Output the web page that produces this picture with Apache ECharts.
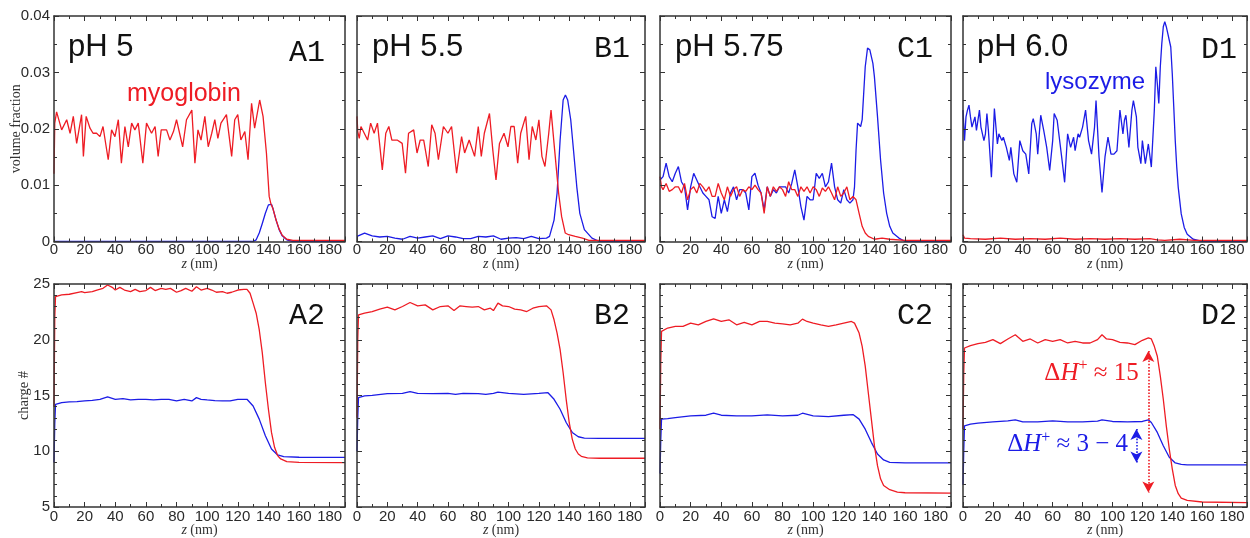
<!DOCTYPE html>
<html><head><meta charset="utf-8">
<script src="https://cdn.jsdelivr.net/npm/echarts@6/dist/echarts.min.js"></script>
<style>html,body{margin:0;padding:0;background:#fff}#c{width:1250px;height:538px}</style>
</head><body><div id="c"></div>
<script>
// ---------- text / tick labels ----------
const xTickLabels = ['0','20','40','60','80','100','120','140','160','180'];
const volTickLabels = ['0','0.01','0.02','0.03','0.04'];
const chargeTickLabels = ['5','10','15','20','25'];
const phLabels = ['pH 5','pH 5.5','pH 5.75','pH 6.0'];
const panelTopLabels = ['A1','B1','C1','D1'];
const panelBottomLabels = ['A2','B2','C2','D2'];
const proteinNames = ['myoglobin','lysozyme'];
const volName = 'volume fraction';
const chargeName = 'charge #';

// ---------- volume fraction (row 1), [z, value] ----------
const a1Red = [[0,0.012],[0.5,0.021],[1.7,0.0230],[5,0.0198],[8.3,0.0216],[10.5,0.0192],[12.6,0.0222],[14.8,0.0174],[18,0.0225],[19.2,0.0151],[21,0.0222],[23.5,0.0201],[25.5,0.0192],[27.8,0.0192],[30,0.0186],[32,0.0204],[35.4,0.0145],[37.6,0.0198],[39.8,0.0186],[42,0.0216],[44,0.0139],[46.3,0.0204],[48.5,0.0168],[50.7,0.0210],[52.8,0.0198],[55,0.0210],[58,0.0139],[60.4,0.0210],[63.7,0.0192],[66,0.0204],[68,0.0151],[70,0.0198],[73.5,0.0198],[75.7,0.0180],[78,0.0195],[80,0.0216],[82,0.0192],[84,0.0168],[86.5,0.0216],[90,0.0233],[92,0.0139],[94,0.0198],[96,0.0180],[98.5,0.0222],[100.7,0.0168],[103,0.0192],[105,0.0216],[107,0.0183],[109,0.0210],[112.6,0.0225],[116,0.0151],[118,0.0216],[120,0.0225],[122,0.0180],[124.6,0.0195],[126.7,0.0145],[129,0.0245],[131,0.0201],[134.3,0.0251],[136.5,0.0222],[138.7,0.0157],[140.5,0.0080],[141.5,0.0068],[143,0.0058],[145,0.0038],[147,0.0022],[149,0.0011],[152,0.0004],[156,0.0002],[190,0.0002]];
const a1Blue = [[0,0],[130,0],[132,0.0003],[134,0.0015],[136,0.0032],[138,0.0050],[140,0.0065],[141,0.0068],[142,0.0066],[143,0.0058],[145,0.0038],[147,0.0021],[149,0.0010],[152,0.0003],[156,0],[190,0]];
const b1Red = [[0,0.0222],[0.5,0.0195],[1.5,0.0183],[2.6,0.0204],[4.8,0.0192],[7,0.0180],[9,0.0210],[11.3,0.0192],[13.5,0.0210],[16.7,0.0127],[19,0.0192],[21,0.0204],[23,0.0180],[26.5,0.0180],[29.8,0.0174],[32,0.0121],[34,0.0192],[37.4,0.0198],[39.6,0.0157],[41.7,0.0180],[44,0.0180],[47,0.0133],[49.3,0.0207],[51.5,0.0192],[53.7,0.0145],[57,0.0204],[60,0.0192],[62.4,0.0204],[65.7,0.0121],[69,0.0186],[71,0.0157],[74,0.0180],[77.6,0.0151],[80,0.0204],[82,0.0151],[84,0.0192],[87.4,0.0227],[89.6,0.0162],[91.7,0.0109],[94,0.0174],[97,0.0192],[99.6,0.0168],[101.5,0.0204],[103.7,0.0204],[106,0.0139],[108,0.0192],[111.3,0.0222],[113.5,0.0145],[115.6,0.0204],[118,0.0180],[120,0.0216],[122,0.0151],[124,0.0133],[126.5,0.0192],[128,0.0233],[130.4,0.0162],[133,0.0086],[135,0.0044],[137.4,0.0015],[139.6,0.0012],[144,0.0009],[148.7,0.0006],[153,0.0002],[190,0.0002]];
const b1Blue = [[0,0.0009],[5,0.0015],[10,0.0010],[15,0.0008],[20,0.0009],[25,0.0006],[30,0.0004],[35,0.0009],[40,0.0006],[45,0.0008],[50,0.0010],[55,0.0005],[60,0.0010],[65,0.0008],[70,0.0005],[75,0.0005],[80,0.0009],[85,0.0008],[90,0.0010],[95,0.0004],[100,0.0006],[105,0.0007],[110,0.0005],[115,0.0009],[120,0.0005],[125,0.0006],[127,0.0009],[130,0.0038],[132,0.0086],[134,0.0180],[136,0.0251],[137.5,0.0260],[139,0.0251],[141,0.0216],[143,0.0157],[145,0.0097],[147,0.0050],[150,0.0021],[155,0.0006],[160,0],[190,0]];
const c1Red = [[0,0.0115],[1,0.0097],[2,0.0092],[4,0.0103],[6,0.0089],[8,0.0092],[10,0.0097],[12,0.0097],[14,0.0086],[16,0.0103],[18,0.0074],[20,0.0092],[22,0.0097],[24,0.0086],[26,0.0103],[28,0.0097],[30,0.0089],[32,0.0097],[34,0.0080],[36,0.0080],[38,0.0103],[40,0.0086],[42,0.0074],[44,0.0097],[46,0.0080],[48,0.0092],[50,0.0097],[52,0.0080],[54,0.0092],[56,0.0089],[58,0.0097],[60,0.0092],[62,0.0100],[64,0.0092],[66,0.0086],[68,0.0050],[70,0.0097],[72,0.0080],[74,0.0097],[76,0.0089],[78,0.0097],[80,0.0092],[82,0.0080],[84,0.0106],[86,0.0092],[88,0.0092],[90,0.0080],[92,0.0097],[94,0.0089],[96,0.0097],[98,0.0086],[100,0.0097],[102,0.0092],[104,0.0080],[106,0.0095],[108,0.0089],[110,0.0097],[112,0.0086],[114,0.0074],[116,0.0097],[118,0.0080],[120,0.0086],[122,0.0097],[124,0.0074],[126,0.0080],[128,0.0074],[130,0.0050],[132,0.0027],[134,0.0015],[136,0.0009],[140,0.0004],[145,0.0006],[150,0.0004],[160,0.0002],[190,0.0002]];
const c1Blue = [[0,0.0109],[2,0.0115],[4,0.0139],[6,0.0115],[8,0.0106],[10,0.0121],[12,0.0133],[14,0.0106],[16,0.0097],[18,0.0056],[20,0.0097],[22,0.0121],[24,0.0109],[26,0.0097],[28,0.0086],[30,0.0080],[32,0.0074],[34,0.0044],[36,0.0041],[38,0.0080],[40,0.0050],[42,0.0074],[44,0.0053],[46,0.0086],[48,0.0097],[50,0.0074],[52,0.0092],[54,0.0092],[56,0.0086],[58,0.0056],[60,0.0115],[62,0.0121],[64,0.0100],[66,0.0086],[68,0.0056],[70,0.0097],[72,0.0080],[74,0.0092],[76,0.0086],[78,0.0097],[80,0.0097],[82,0.0097],[84,0.0086],[86,0.0103],[88,0.0127],[90,0.0097],[92,0.0062],[94,0.0038],[96,0.0080],[98,0.0074],[100,0.0074],[102,0.0121],[104,0.0112],[106,0.0121],[108,0.0097],[110,0.0106],[112,0.0139],[114,0.0097],[116,0.0074],[118,0.0068],[120,0.0092],[122,0.0074],[124,0.0068],[126,0.0074],[127,0.0097],[128,0.0162],[129,0.0210],[131,0.0204],[132,0.0216],[134,0.0310],[135.5,0.0343],[137,0.0340],[139,0.0316],[140,0.0292],[142,0.0222],[144,0.0145],[146,0.0086],[148,0.0050],[150,0.0027],[152,0.0015],[156,0.0006],[160,0],[190,0]];
const d1Red = [[0,0.0012],[1,0.0006],[5,0.0005],[15,0.0004],[25,0.0006],[35,0.0004],[45,0.0005],[55,0.0004],[65,0.0006],[75,0.0004],[85,0.0005],[95,0.0004],[105,0.0005],[115,0.0004],[125,0.0005],[130,0.0003],[135,0.0002],[145,0.0004],[155,0.0002],[190,0.0002]];
const d1Blue = [[0,0.0233],[1,0.0179],[2,0.0221],[3,0.0233],[4,0.0242],[5,0.0221],[6,0.0203],[8,0.0221],[9,0.0197],[11,0.0233],[12,0.0203],[14,0.0179],[15,0.0191],[16,0.0227],[17,0.0197],[19,0.0114],[20,0.0173],[21,0.0236],[23,0.0173],[24,0.0191],[26,0.0179],[27,0.0185],[29,0.0167],[31,0.0144],[32,0.0167],[34,0.0120],[36,0.0105],[38,0.0179],[40,0.0161],[42,0.0155],[44,0.0120],[46,0.0209],[47,0.0218],[49,0.0191],[50,0.0155],[52,0.0224],[53,0.0221],[54,0.0197],[56,0.0167],[58,0.0126],[60,0.0179],[61,0.0227],[62,0.0230],[63,0.0215],[64,0.0218],[66,0.0150],[68,0.0105],[70,0.0191],[72,0.0167],[74,0.0185],[75,0.0161],[77,0.0191],[78,0.0185],[80,0.0203],[82,0.0233],[84,0.0179],[86,0.0155],[88,0.0203],[89,0.0250],[91,0.0150],[93,0.0087],[95,0.0150],[97,0.0185],[99,0.0155],[101,0.0155],[103,0.0161],[105,0.0233],[107,0.0191],[108,0.0215],[109,0.0224],[111,0.0167],[113,0.0233],[114,0.0250],[116,0.0221],[117,0.0167],[119,0.0138],[120,0.0179],[122,0.0138],[124,0.0173],[126,0.0132],[128,0.0233],[129,0.0310],[130,0.0280],[131,0.0245],[132,0.0310],[133,0.0351],[134,0.0381],[135,0.0390],[136,0.0381],[137,0.0369],[138,0.0357],[139,0.0345],[140,0.0298],[141,0.0239],[142,0.0179],[143,0.0132],[144,0.0096],[146,0.0049],[148,0.0025],[150,0.0013],[154,0.0004],[160,0],[190,0]];

// ---------- charge # (row 2), [z, value] ----------
const a2Red = [[0,14],[0.5,22],[1,23.87],[5,24.02],[10,24.08],[15,24.23],[18,24.32],[20,24.23],[25,24.32],[28,24.46],[32,24.61],[35,24.91],[38,24.70],[40,24.46],[43,24.70],[46,24.46],[50,24.32],[53,24.52],[56,24.32],[60,24.41],[63,24.70],[66,24.41],[70,24.61],[73,24.52],[76,24.61],[80,24.26],[83,24.41],[86,24.61],[90,24.35],[93,24.76],[96,24.46],[100,24.61],[103,24.46],[106,24.26],[110,24.32],[113,24.17],[116,24.26],[120,24.46],[124,24.52],[126,24.52],[128,24.17],[130,23.28],[132,22.38],[134,20.90],[136,18.82],[138,16.14],[140,13.77],[142,11.69],[144,10.35],[146,9.61],[148,9.31],[152,9.07],[160,9.01],[190,8.98]];
const a2Blue = [[0,9],[0.5,12.5],[1,14.21],[5,14.36],[10,14.42],[15,14.45],[20,14.51],[25,14.57],[30,14.66],[35,14.87],[40,14.66],[45,14.72],[50,14.60],[55,14.66],[60,14.66],[65,14.60],[70,14.66],[75,14.66],[80,14.51],[85,14.66],[90,14.51],[93,14.81],[96,14.66],[100,14.60],[105,14.54],[110,14.51],[115,14.51],[120,14.66],[126,14.66],[130,14.06],[134,12.88],[138,11.39],[142,10.20],[146,9.67],[150,9.52],[160,9.46],[190,9.45]];
const b2Red = [[0,13],[0.5,20],[1,22.24],[5,22.38],[10,22.53],[15,22.74],[20,22.92],[25,22.68],[30,22.98],[35,23.34],[40,23.04],[45,23.13],[50,22.68],[55,22.98],[60,23.04],[64,22.62],[68,23.04],[72,22.98],[76,22.92],[80,22.98],[84,22.68],[88,22.83],[90,22.62],[93,23.28],[96,23.04],[100,22.98],[104,22.74],[108,22.68],[112,22.53],[116,22.83],[120,22.98],[125,23.04],[128,22.68],[130,21.79],[132,20.60],[134,19.12],[136,17.04],[138,14.66],[140,12.58],[142,11.09],[144,10.20],[146,9.75],[148,9.55],[152,9.40],[160,9.37],[190,9.37]];
const b2Blue = [[0,10],[0.5,13],[1,14.81],[5,14.96],[10,15.01],[20,15.16],[30,15.19],[35,15.34],[40,15.19],[50,15.16],[60,15.19],[65,15.10],[70,15.19],[80,15.16],[85,15.10],[90,15.19],[93,15.31],[100,15.19],[110,15.10],[120,15.19],[126,15.25],[130,14.66],[134,13.77],[138,12.58],[142,11.69],[146,11.30],[150,11.18],[160,11.15],[190,11.15]];
const c2Red = [[0,12],[0.5,18],[1,20.75],[5,21.05],[10,21.20],[15,21.20],[20,21.49],[25,21.34],[30,21.64],[35,21.88],[40,21.64],[45,21.79],[50,21.34],[55,21.55],[60,21.34],[65,21.64],[70,21.64],[75,21.49],[80,21.43],[85,21.34],[90,21.49],[93,21.85],[96,21.64],[100,21.49],[105,21.34],[110,21.20],[115,21.34],[120,21.49],[125,21.64],[127,21.49],[130,20.60],[132,19.41],[134,17.63],[136,15.25],[138,12.88],[140,10.50],[142,8.71],[144,7.53],[146,6.93],[150,6.55],[155,6.34],[160,6.28],[190,6.25]];
const c2Blue = [[0,8],[0.5,11],[1,12.88],[5,12.93],[10,13.02],[20,13.17],[30,13.23],[35,13.41],[40,13.23],[50,13.17],[60,13.17],[70,13.26],[80,13.17],[90,13.23],[93,13.41],[100,13.17],[110,13.11],[120,13.23],[126,13.29],[130,12.88],[134,11.98],[138,10.80],[142,9.75],[146,9.22],[150,9.01],[160,8.95],[190,8.95]];
const d2Red = [[0,12],[0.5,17],[1,19.26],[5,19.47],[10,19.65],[15,19.77],[20,20.01],[25,19.65],[30,20.07],[35,20.45],[40,19.86],[45,20.07],[50,19.71],[55,20.01],[60,19.86],[65,20.01],[70,19.71],[75,19.86],[80,19.71],[85,19.71],[90,20.01],[93,20.45],[96,20.07],[100,20.01],[105,19.77],[110,19.71],[115,19.56],[120,19.95],[124,20.16],[126,20.07],[128,19.41],[130,18.52],[132,16.74],[134,14.66],[136,12.28],[138,10.20],[140,8.42],[142,6.93],[144,6.19],[146,5.80],[150,5.59],[160,5.45],[190,5.39]];
const d2Blue = [[0,7],[0.5,10],[1,12.28],[5,12.43],[10,12.52],[20,12.64],[30,12.73],[35,12.82],[40,12.64],[50,12.64],[60,12.73],[70,12.64],[80,12.64],[90,12.70],[93,12.82],[100,12.67],[110,12.64],[120,12.67],[124,12.82],[126,12.58],[130,11.69],[134,10.50],[138,9.46],[142,8.95],[146,8.83],[150,8.77],[190,8.77]];

// ---------- D2 annotations: [z, from, to] and text anchors [z, value] ----------
const arrowRed = [124, 19.0, 6.3];
const arrowBlue = [116, 12.0, 9.0];
const textRedAt = [86, 17.0];
const textBlueAt = [70, 10.6];
const textRed = '≈ 15';
const textBlue = '≈ 3 − 4';

// ---------- layout ----------
const RED = '#ee1c24', BLUE = '#1c1ce6', AX = '#333333';
const colLeft = [54, 357, 660, 963];
const colWidth = [291, 288, 291, 289];
const rowTop = [16, 284];
const rowHeight = [225.5, 224];

const topRed = [a1Red, b1Red, c1Red, d1Red];
const topBlue = [a1Blue, b1Blue, c1Blue, d1Blue];
const botRed = [a2Red, b2Red, c2Red, d2Red];
const botBlue = [a2Blue, b2Blue, c2Blue, d2Blue];

const grid = [], xAxis = [], yAxis = [], series = [], title = [];
const lineAx = {show: true, onZero: false, lineStyle: {color: AX, width: 1.5}};
const tickAx = (len) => ({show: true, inside: true, length: len, lineStyle: {color: AX, width: 1}});
const minorAx = (n) => ({show: true, splitNumber: n, length: 3, lineStyle: {color: AX, width: 1}});
const serifName = {fontFamily: 'Liberation Serif', fontSize: 14, color: '#333',
  rich: {i: {fontFamily: 'Liberation Serif', fontStyle: 'italic', fontSize: 14, color: '#333'}}};

for (let r = 0; r < 2; r++) {
  for (let c = 0; c < 4; c++) {
    const gi = r * 4 + c;
    grid.push({left: colLeft[c], top: rowTop[r], width: colWidth[c], height: rowHeight[r], containLabel: false});
    xAxis.push({type: 'value', gridIndex: gi, position: 'bottom', min: 0, max: 190, interval: 20, z: 10,
      axisLine: lineAx, axisTick: tickAx(5), minorTick: minorAx(2), splitLine: {show: false},
      axisLabel: {show: true, fontFamily: 'Liberation Sans', fontSize: 15, color: '#2a2a2a', margin: r === 0 ? 1 : 2,
        formatter: v => (xTickLabels.indexOf(String(v)) >= 0 ? String(v) : '')},
      name: '{i|z} (nm)', nameLocation: 'middle', nameGap: 16, nameMoveOverlap: false, nameTextStyle: serifName});
    xAxis.push({type: 'value', gridIndex: gi, position: 'top', min: 0, max: 190, interval: 20, z: 10,
      axisLine: lineAx, axisTick: tickAx(5), minorTick: minorAx(2), splitLine: {show: false},
      axisLabel: {show: false}});
    const yCfg = r === 0
      ? {min: 0, max: 0.04, interval: 0.01, minor: 2, labels: volTickLabels, step: 0.01, base: 0}
      : {min: 5, max: 25, interval: 5, minor: 5, labels: chargeTickLabels, step: 5, base: 5};
    yAxis.push({type: 'value', gridIndex: gi, position: 'left', min: yCfg.min, max: yCfg.max, interval: yCfg.interval, z: 10,
      axisLine: lineAx, axisTick: tickAx(5), minorTick: minorAx(yCfg.minor), splitLine: {show: false},
      axisLabel: {show: c === 0, fontFamily: 'Liberation Sans', fontSize: 15, color: '#2a2a2a', margin: 4,
        formatter: v => yCfg.labels[Math.round((v - yCfg.base) / yCfg.step)] || ''},
      name: c === 0 ? (r === 0 ? volName : chargeName) : '', nameLocation: 'middle', nameMoveOverlap: false,
      nameGap: r === 0 ? 31 : 22, nameTextStyle: {fontFamily: 'Liberation Serif', fontSize: r === 0 ? 14 : 14.5, color: '#333'}});
    yAxis.push({type: 'value', gridIndex: gi, position: 'right', min: yCfg.min, max: yCfg.max, interval: yCfg.interval, z: 10,
      axisLine: lineAx, axisTick: tickAx(5), minorTick: minorAx(yCfg.minor), splitLine: {show: false},
      axisLabel: {show: false}});

    const redData = r === 0 ? topRed[c] : botRed[c];
    const blueData = r === 0 ? topBlue[c] : botBlue[c];
    series.push({type: 'line', xAxisIndex: 2 * gi, yAxisIndex: 2 * gi, data: blueData, showSymbol: false,
      symbol: 'none', lineStyle: {color: BLUE, width: 1.3}, z: 2});
    const red = {type: 'line', xAxisIndex: 2 * gi, yAxisIndex: 2 * gi, data: redData, showSymbol: false,
      symbol: 'none', lineStyle: {color: RED, width: 1.3}, z: 3};
    if (gi === 7) {
      red.markLine = {silent: true, symbol: ['arrow', 'arrow'], symbolSize: [9, 11], label: {show: false},
        data: [
          [{coord: [arrowRed[0], arrowRed[1]], lineStyle: {color: RED, type: 'dotted', width: 1.6}, itemStyle: {color: RED}},
           {coord: [arrowRed[0], arrowRed[2]]}],
          [{coord: [arrowBlue[0], arrowBlue[1]], lineStyle: {color: BLUE, type: 'dotted', width: 1.6}, itemStyle: {color: BLUE}},
           {coord: [arrowBlue[0], arrowBlue[2]]}]
        ]};
      const rich = (col) => ({
        n: {fontFamily: 'Liberation Serif', fontSize: 25, color: col, lineHeight: 30},
        it: {fontFamily: 'Liberation Serif', fontStyle: 'italic', fontSize: 25, color: col, lineHeight: 30},
        sup: {fontFamily: 'Liberation Serif', fontSize: 16, color: col, verticalAlign: 'top', lineHeight: 11}
      });
      red.markPoint = {silent: true, symbol: 'circle', symbolSize: 0,
        data: [
          {coord: textRedAt, label: {show: true, position: 'inside', formatter: '{n|Δ}{it|H}{sup|+}{n| ' + textRed + '}', rich: rich(RED)}},
          {coord: textBlueAt, label: {show: true, position: 'inside', formatter: '{n|Δ}{it|H}{sup|+}{n| ' + textBlue + '}', rich: rich(BLUE)}}
        ]};
    }
    series.push(red);
  }
}

// panel titles
const phLeft = [68, 372, 675, 977];
const letterRight = [925, 620, 317, 13];
const letterTopRow1 = [38, 34, 34, 35];
for (let c = 0; c < 4; c++) {
  title.push({text: phLabels[c], left: phLeft[c], top: 32, padding: 0,
    textStyle: {fontFamily: 'Liberation Sans', fontSize: 31, fontWeight: 'normal', color: '#111'}});
  title.push({text: panelTopLabels[c], right: letterRight[c], top: letterTopRow1[c], padding: 0,
    textStyle: {fontFamily: 'Liberation Mono', fontSize: 30, fontWeight: 'normal', color: '#111'}});
  title.push({text: panelBottomLabels[c], right: letterRight[c], top: 301, padding: 0,
    textStyle: {fontFamily: 'Liberation Mono', fontSize: 30, fontWeight: 'normal', color: '#111'}});
}
title.push({text: proteinNames[0], left: 127, top: 82, padding: 0,
  textStyle: {fontFamily: 'Liberation Sans', fontSize: 25, fontWeight: 'normal', color: RED}});
title.push({text: proteinNames[1], left: 1045, top: 70, padding: 0,
  textStyle: {fontFamily: 'Liberation Sans', fontSize: 24, fontWeight: 'normal', color: BLUE}});

const chart = echarts.init(document.getElementById('c'), null, {renderer: 'canvas'});
chart.setOption({animation: false, backgroundColor: '#fff', textStyle: {fontFamily: 'Liberation Sans'},
  title, grid, xAxis, yAxis, series});
</script></body></html>
